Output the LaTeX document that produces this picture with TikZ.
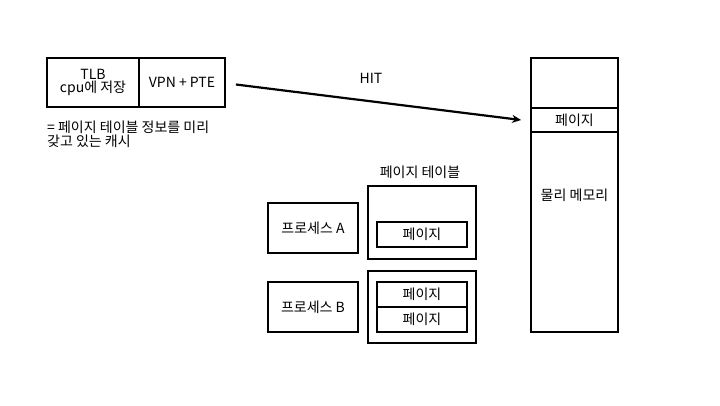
\documentclass[tikz,border=0pt]{standalone}
\usepackage{fontspec}
\setmainfont{Noto Sans CJK KR}
\usetikzlibrary{arrows.meta}
\begin{document}
\begin{tikzpicture}[x=1pt,y=-1pt,
  box/.style={draw=black,line width=1.8pt,inner sep=0pt,align=center,font=\fontsize{14}{16}\selectfont},
  txt/.style={inner sep=0pt,font=\fontsize{14}{16}\selectfont},
  conn/.style={line width=2.2pt,-{Stealth[length=9pt,width=8pt]}}]
\useasboundingbox (0,0) rectangle (720,405);
% TLB
\node[box,minimum width=92pt,minimum height=49pt] (tlb) at (93,82.5) {TLB\\[-3pt]cpu에 저장};
\node[box,minimum width=86pt,minimum height=49pt] (vpn) at (182,82.5) {VPN + PTE};
\node[txt,anchor=north west,align=left] (note) at (47,121) {= 페이지 테이블 정보를 미리\\[-2pt]갖고 있는 캐시};
% physical memory
\node[box,minimum width=87pt,minimum height=50pt] (memtop) at (574.5,83) {};
\node[box,minimum width=87pt,minimum height=24pt] (mpage) at (574.5,120) {페이지};
\node[box,minimum width=87pt,minimum height=200pt] (mem) at (574.5,232) {};
\node[txt] (memlbl) at (574.5,195) {물리 메모리};
% arrow
\draw[conn] ([xshift=10pt,yshift=-2pt]vpn.east) -- ([xshift=-9pt]mpage.west);
\node[txt] (hit) at (371,78) {HIT};
% processes
\node[box,minimum width=90pt,minimum height=50pt] (pa) at (313,228) {프로세스 A};
\node[box,minimum width=90pt,minimum height=50pt] (pb) at (313,307) {프로세스 B};
% page tables
\node[txt] (ptl) at (420,172) {페이지 테이블};
\node[box,minimum width=108pt,minimum height=73pt] (pta) at (422,222.5) {};
\node[box,minimum width=90pt,minimum height=25pt] (ptap) at (422,234.5) {페이지};
\node[box,minimum width=108pt,minimum height=72pt] (ptb) at (422,307) {};
\node[box,minimum width=90pt,minimum height=25pt] (ptbp1) at (422,294.5) {페이지};
\node[box,minimum width=90pt,minimum height=25pt] (ptbp2) at (422,319.5) {페이지};
\end{tikzpicture}
\end{document}
